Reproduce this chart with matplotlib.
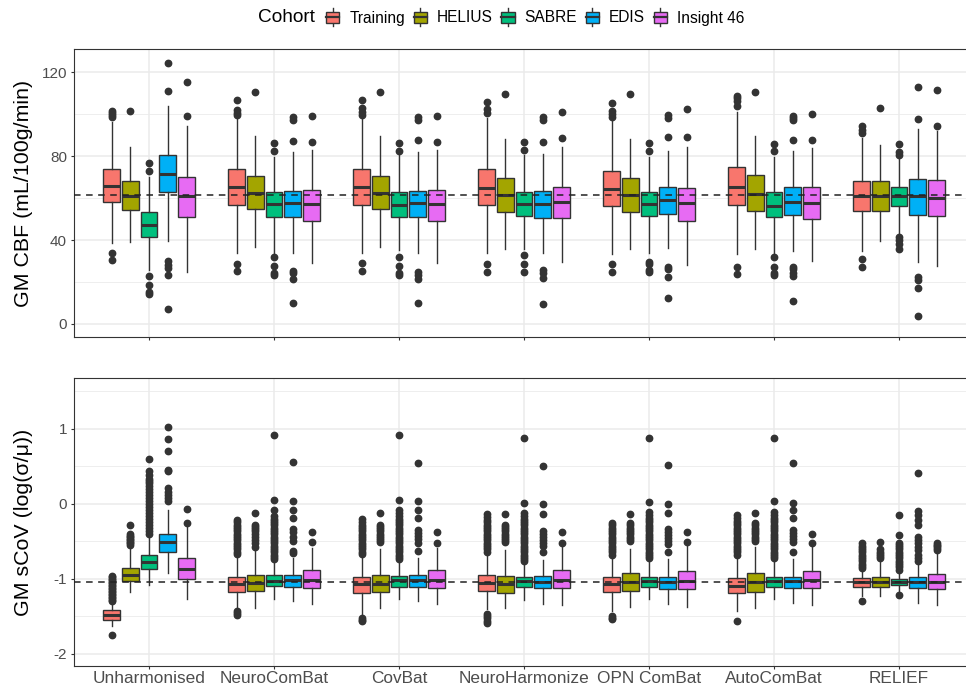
import numpy as np
import matplotlib
matplotlib.use("Agg")
import matplotlib.pyplot as plt
from matplotlib.patches import Patch, Rectangle
from matplotlib.lines import Line2D
from matplotlib.legend_handler import HandlerBase

plt.rcParams['font.family'] = ['Liberation Sans', 'DejaVu Sans']

methods = ['Unharmonised', 'NeuroComBat', 'CovBat', 'NeuroHarmonize',
           'OPN ComBat', 'AutoComBat', 'RELIEF']
cohorts = ['Training', 'HELIUS', 'SABRE', 'EDIS', 'Insight 46']
colours = ['#F8766D', '#A3A500', '#00BF7D', '#00B0F6', '#E76BF3']

# ---- GM CBF (mL/100g/min): one row per method, one value per cohort
cbf_whislo = [[38.4, 39.2, 25.7, 39.7, 24.6],
              [34.0, 36.8, 33.6, 34.0, 28.9],
              [33.6, 36.8, 35.2, 33.6, 28.9],
              [33.6, 35.7, 35.7, 33.6, 29.7],
              [33.3, 35.7, 33.6, 36.0, 28.1],
              [33.2, 35.7, 33.6, 34.9, 30.0],
              [34.9, 39.7, 42.4, 29.7, 27.8]]
cbf_q1 = [[58.1, 54.3, 41.3, 62.7, 50.8],
          [56.8, 54.6, 51.1, 51.1, 49.0],
          [56.8, 54.6, 50.8, 50.8, 49.0],
          [56.7, 53.5, 51.6, 50.6, 50.3],
          [56.3, 53.5, 51.6, 52.4, 49.2],
          [56.7, 54.0, 50.8, 51.9, 50.0],
          [54.0, 54.0, 56.3, 51.9, 51.6]]
cbf_med = [[65.6, 61.1, 47.0, 71.3, 61.1],
           [65.2, 62.2, 57.0, 57.5, 57.0],
           [65.2, 62.2, 56.8, 57.5, 57.1],
           [64.9, 61.4, 57.1, 57.1, 58.3],
           [64.3, 61.3, 57.3, 58.9, 57.8],
           [65.4, 61.9, 56.3, 58.3, 57.8],
           [61.1, 61.1, 61.1, 61.1, 60.2]]
cbf_q3 = [[73.7, 68.1, 53.2, 80.5, 70.2],
          [74.0, 70.5, 62.7, 63.5, 63.8],
          [74.0, 70.5, 62.7, 63.5, 63.8],
          [73.7, 69.7, 63.0, 63.5, 65.4],
          [73.0, 69.4, 63.0, 65.4, 64.9],
          [74.9, 71.0, 62.7, 65.4, 65.1],
          [68.1, 68.3, 65.4, 68.9, 68.6]]
cbf_whishi = [[96.3, 84.1, 70.2, 104.0, 94.3],
              [98.0, 89.7, 79.7, 82.0, 82.9],
              [98.0, 89.5, 80.5, 82.0, 82.9],
              [98.0, 88.1, 80.5, 81.0, 84.4],
              [98.0, 88.1, 79.7, 82.5, 84.4],
              [101.1, 89.7, 79.7, 82.5, 83.7],
              [88.4, 85.2, 78.9, 92.7, 92.0]]
cbf_fliers = [
    [[98.5, 99.5, 100.5, 101.5, 33.6, 30.5], [101.6],
     [76.5, 72.9, 22.9, 18.6, 15.0, 14.5],
     [124.4, 111.0, 30.0, 28.1, 26.5, 23.3, 7.0], [115.4, 99.2]],
    [[106.5, 101.9, 100.6, 99.5, 28.6, 25.1], [110.6],
     [86.0, 82.4, 32.0, 27.6, 24.1, 23.3],
     [98.4, 97.1, 87.3, 25.4, 24.1, 21.3, 9.8], [99.0, 86.5]],
    [[106.5, 102.7, 101.0, 99.5, 28.9, 25.2], [110.6],
     [86.3, 82.4, 32.0, 27.6, 24.1, 23.3],
     [98.4, 97.1, 87.6, 24.9, 23.3, 21.3, 9.8], [99.0, 86.5]],
    [[105.9, 102.2, 100.6, 28.6, 24.9], [109.5],
     [86.5, 82.9, 32.9, 28.4, 24.6],
     [98.7, 97.1, 86.7, 25.7, 24.1, 21.7, 9.5], [101.1, 88.4]],
    [[105.4, 101.4, 100.0, 98.7, 28.4, 24.9], [109.4],
     [86.0, 82.4, 29.7, 28.5, 25.7, 24.9],
     [99.5, 98.0, 88.9, 27.3, 26.0, 22.5, 12.5], [102.4, 89.2]],
    [[108.6, 107.5, 106.0, 104.0, 27.3, 23.6], [110.6],
     [85.7, 82.4, 32.0, 27.3, 24.1, 23.5],
     [99.2, 98.0, 97.0, 87.6, 27.3, 26.0, 24.1, 22.8, 11.0], [100.0, 87.6]],
    [[94.3, 92.4, 90.8, 31.0, 27.3], [103.0],
     [85.7, 82.0, 80.5, 41.3, 40.0, 38.1, 35.7],
     [112.7, 97.6, 22.2, 21.0, 17.0, 4.0], [111.7, 94.4]],
]
cbf_ref = 61.3

# ---- GM sCoV (log(sigma/mu))
scov_whislo = [[-1.63, -1.18, -1.09, -0.93, -1.275],
               [-1.41, -1.39, -1.266, -1.297, -1.341],
               [-1.47, -1.39, -1.266, -1.297, -1.341],
               [-1.41, -1.39, -1.28, -1.34, -1.35],
               [-1.43, -1.38, -1.27, -1.34, -1.38],
               [-1.43, -1.39, -1.27, -1.32, -1.35],
               [-1.23, -1.23, -1.16, -1.33, -1.35]]
scov_q1 = [[-1.55, -1.036, -0.876, -0.646, -1.0],
           [-1.18, -1.164, -1.098, -1.107, -1.129],
           [-1.186, -1.18, -1.107, -1.107, -1.129],
           [-1.164, -1.186, -1.116, -1.13, -1.129],
           [-1.18, -1.164, -1.116, -1.14, -1.14],
           [-1.195, -1.18, -1.116, -1.13, -1.13],
           [-1.107, -1.116, -1.08, -1.13, -1.14]]
scov_med = [[-1.487, -0.952, -0.78, -0.51, -0.876],
            [-1.076, -1.053, -1.032, -1.018, -1.018],
            [-1.076, -1.07, -1.023, -1.018, -1.018],
            [-1.053, -1.076, -1.032, -1.04, -1.018],
            [-1.076, -1.04, -1.032, -1.04, -1.032],
            [-1.098, -1.045, -1.032, -1.032, -1.023],
            [-1.045, -1.04, -1.045, -1.04, -1.04]]
scov_q3 = [[-1.417, -0.854, -0.682, -0.41, -0.72],
           [-0.974, -0.952, -0.956, -0.952, -0.89],
           [-0.974, -0.956, -0.965, -0.956, -0.89],
           [-0.956, -0.965, -0.974, -0.965, -0.89],
           [-0.974, -0.93, -0.974, -0.974, -0.90],
           [-0.996, -0.92, -0.974, -0.974, -0.90],
           [-0.996, -0.974, -1.005, -0.974, -0.94]]
scov_whishi = [[-1.32, -0.61, -0.43, -0.09, -0.30],
               [-0.70, -0.62, -0.766, -0.72, -0.589],
               [-0.70, -0.61, -0.766, -0.72, -0.589],
               [-0.68, -0.62, -0.79, -0.75, -0.56],
               [-0.72, -0.60, -0.766, -0.74, -0.56],
               [-0.70, -0.58, -0.766, -0.74, -0.56],
               [-0.88, -0.766, -0.90, -0.79, -0.63]]
scov_fliers = [
    [[-0.96, -0.98, -1.00, -1.02, -1.04, -1.06, -1.08, -1.10, -1.12, -1.14,
      -1.16, -1.18, -1.20, -1.22, -1.24, -1.26, -1.28, -1.30, -1.75],
     [-0.28, -0.41, -0.43, -0.45, -0.47, -0.49, -0.51, -0.53, -0.55],
     [0.59, 0.43, 0.38, 0.33, 0.30, 0.27, 0.24, 0.20, 0.16, 0.12, 0.08,
      0.04, 0.0, -0.04, -0.08, -0.12, -0.16, -0.20, -0.24, -0.28, -0.32,
      -0.36, -0.40],
     [1.02, 0.86, 0.70, 0.45, 0.43, 0.21, 0.16, 0.11, 0.07, 0.04],
     [-0.07, -0.26]],
    [[-0.22, -0.25, -0.28, -0.31, -0.34, -0.37, -0.40, -0.43, -0.46, -0.49,
      -0.52, -0.55, -0.58, -0.61, -0.64, -0.67, -1.43, -1.46, -1.49],
     [-0.13, -0.28, -0.31, -0.34, -0.37, -0.40, -0.44, -0.48, -0.52, -0.58],
     [0.907, 0.053, -0.08, -0.16, -0.20, -0.23, -0.26, -0.29, -0.32, -0.35,
      -0.38, -0.41, -0.44, -0.47, -0.50, -0.53, -0.56, -0.59, -0.62, -0.65,
      -0.68, -0.71, -0.74],
     [0.55, 0.03, -0.08, -0.19, -0.34, -0.38, -0.45, -0.50, -0.63, -0.66],
     [-0.376, -0.514]],
    [[-0.21, -0.25, -0.28, -0.31, -0.34, -0.37, -0.40, -0.43, -0.46, -0.49,
      -0.52, -0.55, -0.58, -0.61, -0.64, -0.67, -1.53, -1.55, -1.57],
     [-0.13, -0.28, -0.31, -0.34, -0.37, -0.40, -0.43, -0.46, -0.49, -0.51],
     [0.907, 0.053, -0.08, -0.12, -0.16, -0.20, -0.23, -0.26, -0.29, -0.32,
      -0.35, -0.38, -0.41, -0.44, -0.47, -0.50, -0.53, -0.56, -0.59, -0.62,
      -0.65, -0.68, -0.71, -0.74],
     [0.54, 0.03, -0.08, -0.19, -0.35, -0.39, -0.43, -0.47, -0.53, -0.63],
     [-0.376, -0.52]],
    [[-0.14, -0.18, -0.22, -0.25, -0.28, -0.31, -0.34, -0.37, -0.40, -0.43,
      -0.46, -0.49, -0.52, -0.55, -0.58, -0.61, -0.64, -1.47, -1.50, -1.53,
      -1.56, -1.59],
     [-0.133, -0.28, -0.31, -0.34, -0.37, -0.40, -0.43, -0.46, -0.49, -0.51],
     [0.87, 0.01, -0.12, -0.16, -0.20, -0.23, -0.26, -0.29, -0.32, -0.35,
      -0.38, -0.41, -0.44, -0.47, -0.50, -0.53, -0.56, -0.59, -0.62, -0.65,
      -0.68, -0.71, -0.74, -0.77],
     [0.50, -0.01, -0.14, -0.36, -0.40, -0.44, -0.48, -0.52, -0.56, -0.65],
     [-0.376, -0.52]],
    [[-0.26, -0.29, -0.32, -0.35, -0.38, -0.41, -0.44, -0.47, -0.50, -0.53,
      -0.56, -0.59, -0.62, -0.65, -0.68, -1.50, -1.52, -1.54],
     [-0.133, -0.26, -0.29, -0.32, -0.35, -0.38, -0.41, -0.44, -0.47, -0.50],
     [0.87, 0.02, -0.11, -0.15, -0.19, -0.22, -0.25, -0.28, -0.31, -0.34,
      -0.37, -0.40, -0.43, -0.46, -0.49, -0.52, -0.55, -0.58, -0.61, -0.64,
      -0.67, -0.70, -0.73],
     [0.52, 0.0, -0.13, -0.34, -0.38, -0.42, -0.46, -0.50, -0.54, -0.65],
     [-0.38, -0.51]],
    [[-0.15, -0.19, -0.23, -0.26, -0.29, -0.32, -0.35, -0.38, -0.41, -0.44,
      -0.47, -0.50, -0.53, -0.56, -0.59, -0.62, -0.65, -0.68, -1.56],
     [-0.124, -0.26, -0.29, -0.32, -0.35, -0.38, -0.41, -0.44, -0.47, -0.50],
     [0.88, 0.03, -0.11, -0.15, -0.19, -0.22, -0.25, -0.28, -0.31, -0.34,
      -0.37, -0.40, -0.43, -0.46, -0.49, -0.52, -0.55, -0.58, -0.61, -0.64,
      -0.67, -0.70, -0.73],
     [0.54, 0.01, -0.08, -0.19, -0.35, -0.39, -0.43, -0.47, -0.51, -0.65],
     [-0.40, -0.53]],
    [[-0.53, -0.56, -0.59, -0.62, -0.65, -0.68, -0.71, -0.74, -0.77, -0.80,
      -0.83, -0.86, -1.30],
     [-0.51, -0.61, -0.64, -0.67, -0.70, -0.72],
     [-0.15, -0.42, -0.52, -0.55, -0.58, -0.61, -0.64, -0.67, -0.70, -0.73,
      -0.76, -0.79, -0.82, -0.85, -0.88, -1.22],
     [0.41, -0.10, -0.15, -0.22, -0.29, -0.45, -0.49, -0.53, -0.58, -0.62,
      -0.68, -0.72, -0.76],
     [-0.53, -0.55, -0.57, -0.59, -0.62]],
]
scov_ref = -1.04

edge = '#333333'
offsets = [-0.3, -0.15, 0.0, 0.15, 0.3]


class BoxKey(HandlerBase):
    # ggplot-like boxplot key: box, median line and short whisker stubs
    def create_artists(self, legend, orig_handle, xdescent, ydescent,
                       width, height, fontsize, trans):
        x0, y0 = -xdescent, -ydescent
        cx = x0 + width / 2
        stub = Line2D([cx, cx], [y0 - 2.5, y0 + height + 2.5], color=edge,
                      lw=1.0, transform=trans)
        box = Rectangle((x0, y0), width, height,
                        facecolor=orig_handle.get_facecolor(),
                        edgecolor=edge, lw=1.0, transform=trans)
        mid = Line2D([x0, x0 + width], [y0 + height / 2] * 2, color=edge,
                     lw=1.6, transform=trans)
        return [stub, box, mid]


def draw_panel(ax, whislo, q1, med, q3, whishi, fliers, ref):
    x = np.arange(len(methods))
    for j, col in enumerate(colours):
        stats = []
        for i in range(len(methods)):
            stats.append(dict(whislo=whislo[i][j], q1=q1[i][j], med=med[i][j],
                              q3=q3[i][j], whishi=whishi[i][j],
                              fliers=fliers[i][j]))
        ax.bxp(stats, positions=x + offsets[j], widths=0.135,
               patch_artist=True, showcaps=False, manage_ticks=False,
               boxprops=dict(facecolor=col, edgecolor=edge, linewidth=1.0),
               medianprops=dict(color=edge, linewidth=2.2),
               whiskerprops=dict(color=edge, linewidth=1.0),
               flierprops=dict(marker='o', markerfacecolor=edge,
                               markeredgecolor=edge, markersize=4.6),
               zorder=3)
    ax.axhline(ref, color='#222222', linewidth=1.1, linestyle=(0, (4.3, 3.6)),
               zorder=6)
    ax.set_xlim(-0.6, 6.6)
    ax.set_xticks(x)
    ax.grid(True, which='major', color='#EBEBEB', linewidth=1.1, zorder=0)
    ax.grid(True, which='minor', axis='y', color='#EBEBEB', linewidth=0.6,
            zorder=0)
    ax.set_axisbelow(True)
    for s in ax.spines.values():
        s.set_color(edge)
        s.set_linewidth(0.8)
    ax.tick_params(which='major', length=2.5, width=0.8, color=edge,
                   labelcolor='#4D4D4D')
    ax.tick_params(which='minor', length=0)
    ax.tick_params(axis='y', labelsize=11, pad=2.5)
    ax.tick_params(axis='x', labelsize=12.4, pad=0.8)


fig = plt.figure(figsize=(9.66, 6.9), dpi=100)
ax1 = fig.add_axes([74 / 966, 1 - 337 / 690, 900 / 966, 288 / 690])
ax2 = fig.add_axes([74 / 966, 1 - 666 / 690, 900 / 966, 288 / 690])

draw_panel(ax1, cbf_whislo, cbf_q1, cbf_med, cbf_q3, cbf_whishi, cbf_fliers,
           cbf_ref)
ax1.set_ylim(-6.2, 131)
ax1.set_yticks([0, 40, 80, 120])
ax1.set_yticks([20, 60, 100], minor=True)
ax1.set_xticklabels([])
ax1.set_ylabel('GM CBF (mL/100g/min)', fontsize=15.4)
ax1.yaxis.set_label_coords(-0.045, 0.5)

draw_panel(ax2, scov_whislo, scov_q1, scov_med, scov_q3, scov_whishi,
           scov_fliers, scov_ref)
ax2.set_ylim(-2.165, 1.673)
ax2.set_yticks([-2, -1, 0, 1])
ax2.set_yticklabels(['-2', '-1', '0', '1'])
ax2.set_yticks([-1.5, -0.5, 0.5, 1.5], minor=True)
ax2.set_xticklabels(methods)
ax2.set_ylabel('GM sCoV (log(σ/μ))', fontsize=15.4)
ax2.yaxis.set_label_coords(-0.045, 0.5)

# legend across the top, title on the left like ggplot
handles = [Patch(facecolor=c) for c in colours]
fig.text(258 / 966, 1 - 18 / 690, 'Cohort', ha='left', va='center',
         fontsize=13.7)
fig.legend(handles, cohorts, loc='center left',
           bbox_to_anchor=(326 / 966, 1 - 18 / 690), ncol=5, frameon=False,
           fontsize=11.2, handlelength=0.85, handleheight=0.7,
           handletextpad=0.65, columnspacing=0.55, borderpad=0,
           borderaxespad=0, handler_map={Patch: BoxKey()})

fig.savefig('out.png', dpi=100)
